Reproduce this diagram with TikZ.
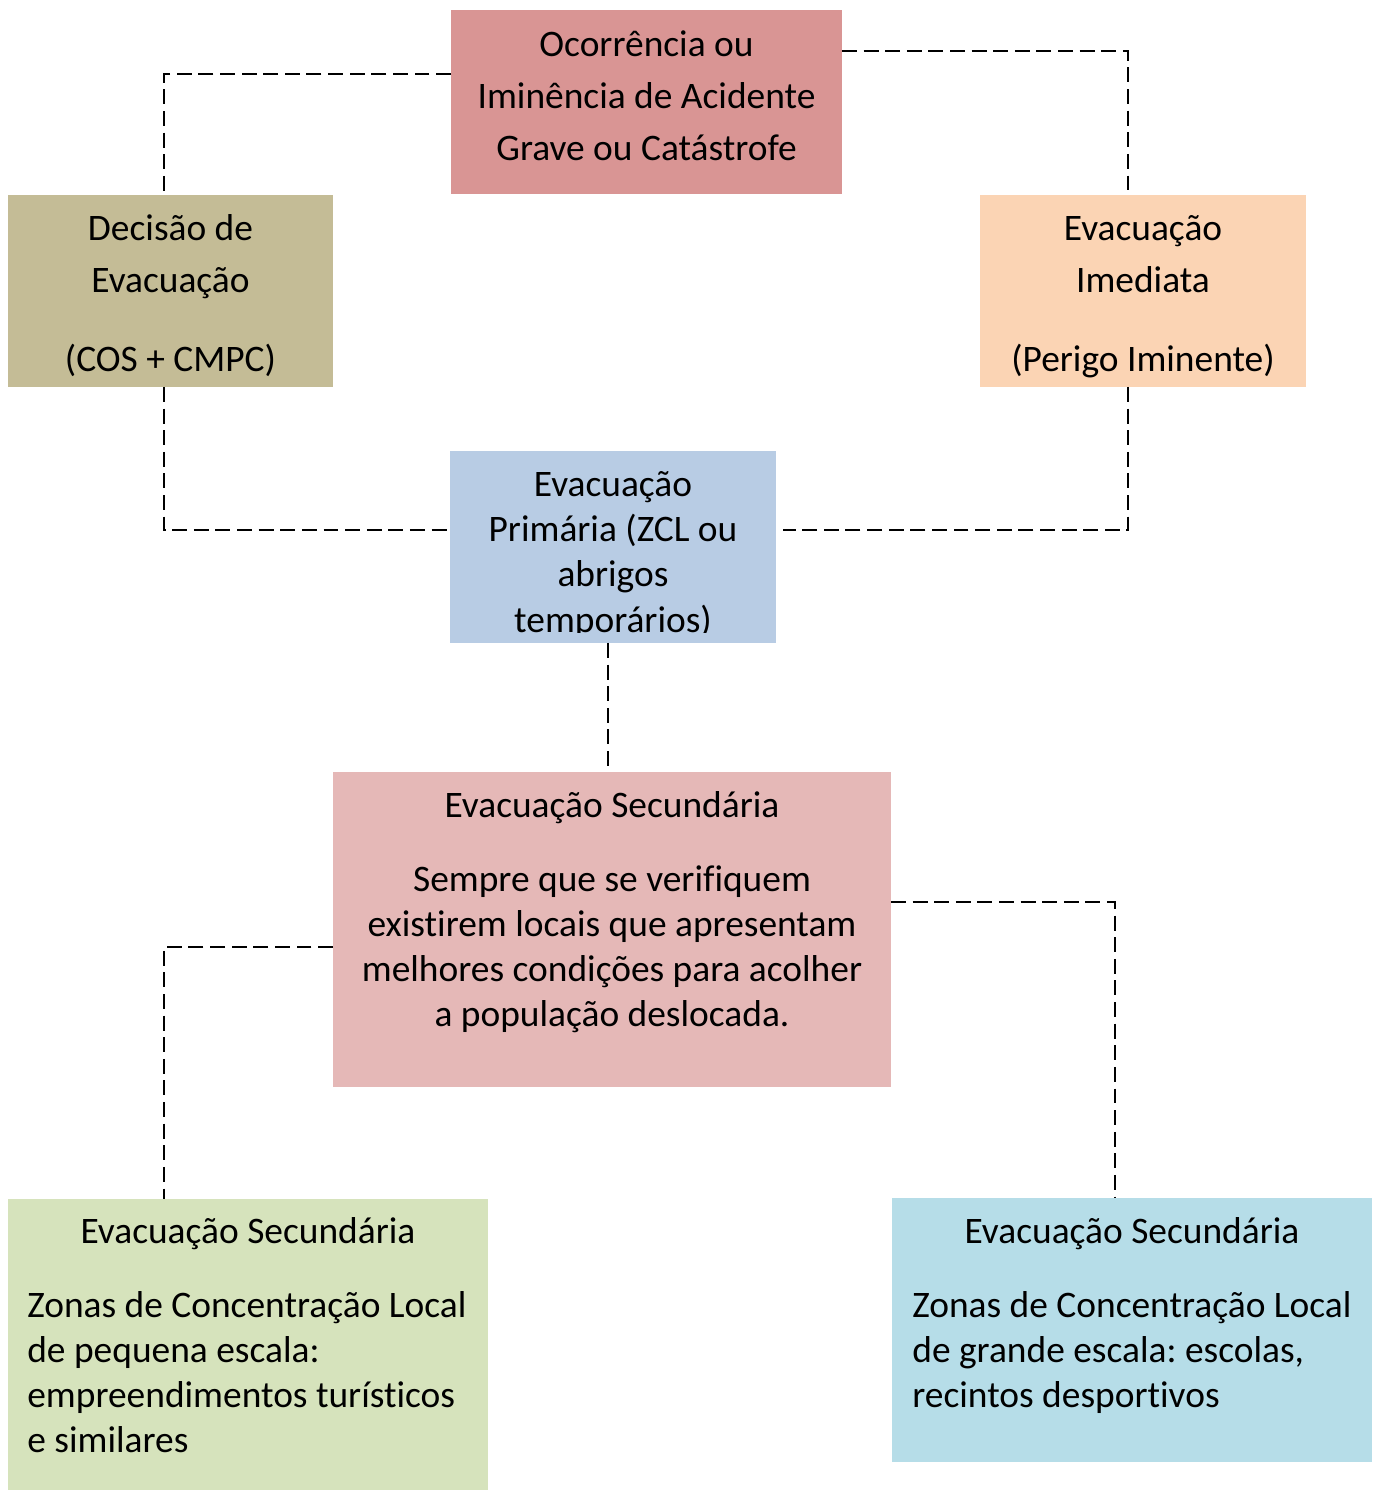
\documentclass[tikz,border=0pt]{standalone}
\usepackage{fontspec}
\setmainfont{Carlito}[Ligatures=CommonOff]
\usetikzlibrary{calc}
\newcommand{\tstrut}{\rule{0pt}{0.6cm}}
\frenchspacing

\begin{document}
\begin{tikzpicture}[x=0.02cm, y=0.02cm]
% Styles
\tikzstyle{none} = [inner sep=0cm]
\tikzstyle{box}=[shape=rectangle, inner sep=0cm, outer sep=0cm]
\tikzstyle{redbox}=[style=box, fill={rgb,255: red,217; green,149; blue,148}]
\tikzstyle{tanbox}=[style=box, fill={rgb,255: red,196; green,188; blue,150}]
\tikzstyle{peachbox}=[style=box, fill={rgb,255: red,251; green,212; blue,180}]
\tikzstyle{bluebox}=[style=box, fill={rgb,255: red,184; green,204; blue,228}]
\tikzstyle{pinkbox}=[style=box, fill={rgb,255: red,229; green,184; blue,183}]
\tikzstyle{greenbox}=[style=box, fill={rgb,255: red,214; green,227; blue,188}]
\tikzstyle{cyanbox}=[style=box, fill={rgb,255: red,182; green,221; blue,232}]
\tikzstyle{boxtext}=[inner sep=0cm, align=center, anchor=north, font=\fontsize{21.3}{25.6}\selectfont]
\tikzstyle{bodytext}=[inner sep=0cm, align=left, anchor=north west, font=\fontsize{21.3}{25.7}\selectfont]
\tikzstyle{dashline}=[-, draw=black, line width=1.1pt, dash pattern=on 8.5pt off 3.8pt]

\useasboundingbox (0, 0) rectangle (1378, 1490);

\node [style=redbox, minimum width=7.82cm, minimum height=3.68cm] (0) at (646.5, 1388) {};
\node [style=tanbox, minimum width=6.5cm, minimum height=3.84cm] (1) at (170.5, 1199) {};
\node [style=peachbox, minimum width=6.52cm, minimum height=3.84cm] (2) at (1143, 1199) {};
\node [style=bluebox, minimum width=6.52cm, minimum height=3.84cm] (3) at (613, 943) {};
\node [style=pinkbox, minimum width=11.16cm, minimum height=6.3cm] (4) at (612, 560.5) {};
\node [style=greenbox, minimum width=9.6cm, minimum height=5.82cm] (5) at (248, 145.5) {};
\node [style=cyanbox, minimum width=9.6cm, minimum height=5.28cm] (6) at (1132, 160) {};

\node [style=boxtext, font=\fontsize{21.3}{29.7}\selectfont] (7) at (646.5, 1464) {\tstrut Ocorrência ou\\Iminência de Acidente\\Grave ou Catástrofe};
\node [style=boxtext, font=\fontsize{21.3}{29.7}\selectfont] (8) at (170.5, 1280) {\tstrut Decisão de\\Evacuação\\[15pt](COS + CMPC)};
\node [style=boxtext, font=\fontsize{21.3}{29.7}\selectfont] (9) at (1143, 1280) {\tstrut Evacuação\\Imediata\\[15pt](Perigo Iminente)};
\begin{scope}
\clip (3.north west) rectangle ($(3.south east)+(0, 10)$);
\node [style=boxtext, font=\fontsize{21.3}{25.8}\selectfont] (10) at (613, 1024) {\tstrut Evacuação\\Primária (ZCL ou\\abrigos\\temporários)};
\end{scope}
\node [style=boxtext] (11) at (612, 703) {\tstrut Evacuação Secundária\\[16.4pt]Sempre que se verifiquem\\existirem locais que apresentam\\melhores condições para acolher\\a população deslocada.};
\node [style=boxtext] (12) at (248, 277) {\tstrut Evacuação Secundária};
\node [style=bodytext] (13) at (27, 203) {\tstrut Zonas de Concentração Local\\de pequena escala:\\empreendimentos turísticos\\e similares};
\node [style=boxtext] (14) at (1132, 277) {\tstrut Evacuação Secundária};
\node [style=bodytext] (15) at (912, 203) {\tstrut Zonas de Concentração Local\\de grande escala: escolas,\\recintos desportivos};

\node [style=none] (20) at (164, 1416) {};
\node [style=none] (21) at (1128, 1439) {};
\node [style=none] (22) at (164, 960) {};
\node [style=none] (23) at (1128, 960) {};
\node [style=none] (24) at (783, 960) {};
\node [style=none] (25) at (608, 900) {};
\node [style=none] (26) at (164, 543) {};
\node [style=none] (27) at (1115, 588) {};

\draw [style=dashline] (0.west |- 20.center) to (20.center) to (20.center |- 1.north);
\draw [style=dashline] (0.east |- 21.center) to (21.center) to (21.center |- 2.north);
\draw [style=dashline] (22.center |- 1.south) to (22.center) to (3.west |- 22.center);
\draw [style=dashline] (23.center |- 2.south) to (23.center) to (24.center);
\draw [style=dashline] (25.center |- 3.south) to (25.center |- 4.north);
\draw [style=dashline] (4.west |- 26.center) to (26.center) to (26.center |- 5.north);
\draw [style=dashline] (4.east |- 27.center) to (27.center) to (27.center |- 6.north);
\end{tikzpicture}
\end{document}
